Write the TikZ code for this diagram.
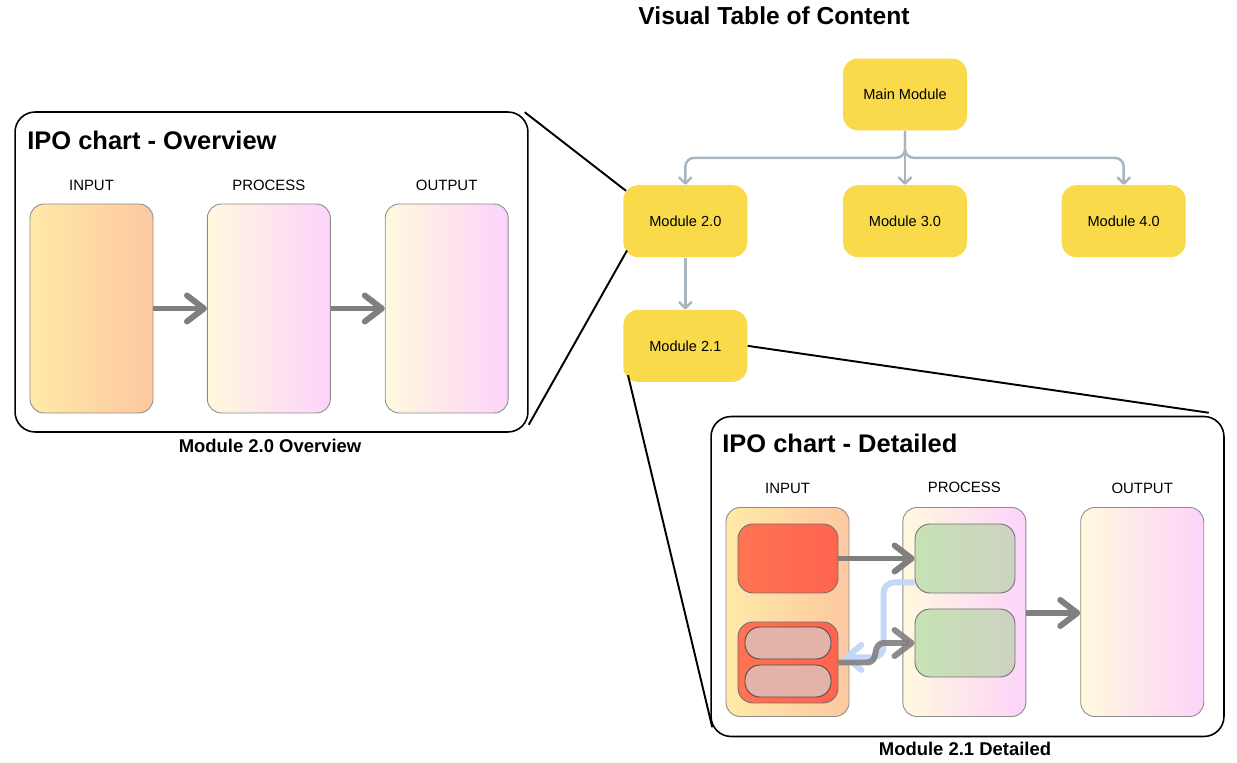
\documentclass[tikz,border=0pt]{standalone}
\usepackage{fontspec}
\setmainfont{Liberation Sans}
\usetikzlibrary{arrows.meta,positioning,calc}
\definecolor{modyellow}{HTML}{F9DA4B}
\definecolor{treeline}{HTML}{A8B4BE}
\definecolor{inleft}{HTML}{FFE9A8}
\definecolor{inright}{HTML}{FDC8A0}
\definecolor{procleft}{HTML}{FFF9DE}
\definecolor{procright}{HTML}{FDD3FB}
\definecolor{redleft}{HTML}{FF7352}
\definecolor{redright}{HTML}{FF644F}
\definecolor{pillfill}{HTML}{E3B2A8}
\definecolor{greenleft}{HTML}{C6E2B4}
\definecolor{greenright}{HTML}{CDD2C2}
\definecolor{flowgray}{HTML}{7F7F7F}
\definecolor{backblue}{HTML}{C2D5F8}
\definecolor{boxedge}{HTML}{8C8C8C}

\begin{document}
\begin{tikzpicture}[x=0.02cm, y=-0.02cm,
    module/.style={rectangle, rounded corners=0.3cm, fill=modyellow, minimum width=2.48cm, minimum height=1.44cm, font=\fontsize{8.3}{10}\selectfont},
    chart/.style={rectangle, rounded corners=0.4cm, draw, line width=0.9pt, minimum width=10.26cm, minimum height=6.4cm},
    ipo/.style={rectangle, rounded corners=0.28cm, draw=boxedge, line width=0.5pt, minimum width=2.46cm, minimum height=4.18cm},
    inbox/.style={ipo, left color=inleft, right color=inright},
    procbox/.style={ipo, left color=procleft, right color=procright},
    part/.style={rectangle, rounded corners=0.3cm, draw=boxedge!80!black, line width=0.5pt, minimum width=2cm},
    pill/.style={rectangle, rounded corners=0.3cm, draw=black!70, line width=0.5pt, fill=pillfill, minimum width=1.72cm, minimum height=0.64cm},
    heading/.style={inner sep=0pt, font=\fontsize{8.5}{10}\selectfont},
    charttitle/.style={inner sep=0pt, anchor=west, font=\fontsize{14.5}{17}\selectfont\bfseries},
    caption/.style={inner sep=0pt, font=\fontsize{10.5}{12}\selectfont\bfseries},
    tree/.style={draw=treeline, line width=1.4pt, rounded corners=5pt, -{Straight Barb[length=0.12cm, width=0.24cm, round]}},
    flow/.style={draw=flowgray, line width=3.4pt, -{Straight Barb[length=0.34cm, width=0.52cm, round]}},
    backflow/.style={draw=backblue, line width=3.4pt, opacity=0.95, rounded corners=6pt, -{Straight Barb[length=0.3cm, width=0.5cm, round]}},
    zoom/.style={line width=1.1pt}
  ]
    \useasboundingbox (0,0) rectangle (1237,763);

    \node[inner sep=0pt, font=\fontsize{14}{17}\selectfont\bfseries] (title) at (774,16) {Visual Table of Content};

    \node[module] (main) at (905,94.5) {Main Module};
    \node[module, below=1.08cm of main] (m30) {Module 3.0};
    \node[module, left=1.9cm of m30] (m20) {Module 2.0};
    \node[module, right=1.88cm of m30] (m40) {Module 4.0};
    \node[module, below=1.04cm of m20] (m21) {Module 2.1};

    \draw[tree] (main.south) -- ++(0,27) -| (m20.north);
    \draw[tree] (main.south) -- ++(0,27) -| (m40.north);
    \draw[tree] (main.south) -- (m30.north);
    \draw[tree] (m20.south) -- (m21.north);

    \node[chart] (ovbox) at (271.5,272) {};
    \node[charttitle] (ovtitle) at (27,140) {IPO chart - Overview};
    \node[inbox] (ovin) at (91.5,308.5) {};
    \node[procbox, right=1.07cm of ovin] (ovproc) {};
    \node[procbox, right=1.08cm of ovproc] (ovout) {};
    \node[heading, above=0.26cm of ovin] (ovinlab) {INPUT};
    \node[heading, above=0.26cm of ovproc] (ovproclab) {PROCESS};
    \node[heading, above=0.26cm of ovout] (ovoutlab) {OUTPUT};
    \draw[flow] (ovin) -- (ovproc);
    \draw[flow] (ovproc) -- (ovout);
    \node[caption] (ovcap) at (270,446) {Module 2.0 Overview};

    \node[chart] (dtbox) at (967.5,576.5) {};
    \node[charttitle] (dttitle) at (722,443) {IPO chart - Detailed};
    \node[inbox] (dtin) at (787.5,612) {};
    \node[procbox, right=1.06cm of dtin] (dtproc) {};
    \node[procbox, right=1.08cm of dtproc] (dtout) {};
    \node[heading, above=0.26cm of dtin] (dtinlab) {INPUT};
    \node[heading, above=0.28cm of dtproc] (dtproclab) {PROCESS};
    \node[heading, above=0.26cm of dtout] (dtoutlab) {OUTPUT};
    \node[caption] (dtcap) at (965,749) {Module 2.1 Detailed};

    \node[part, minimum height=1.38cm, left color=redleft, right color=redright] (red1) at (788,558.5) {};
    \node[part, minimum height=1.62cm, left color=redleft, right color=redright] (redgrp) at (788,662.5) {};
    \node[pill] (pill1) at (788,643) {};
    \node[pill] (pill2) at (788,681) {};
    \node[part, minimum height=1.38cm, left color=greenleft, right color=greenright] (green1) at (965,558.5) {};
    \node[part, minimum height=1.36cm, left color=greenleft, right color=greenright] (green2) at (965,643) {};

    \draw[backflow] ($(green1.south west)+(0,-11)$) -- ++(-31,0) -- ++(0,75) -- ($(redgrp.east)+(5,-5)$);
    \draw[flow] (red1) -- (green1);
    \draw[flow, opacity=0.9] (redgrp.east) -- ++(28,0) .. controls +(14,0) and +(-14,0) .. ($(green2.west)+(-30,0)$) -- (green2.west);
    \draw[flow] (dtproc.east |- 0,613) -- (dtout.west |- 0,613);

    \draw[zoom] ($(ovbox.north east)+(-4,1)$) -- ($(m20.north west)+(3,6)$);
    \draw[zoom] ($(ovbox.south east)+(0,-8)$) -- ($(m20.south west)+(4,-7)$);
    \draw[zoom] (m21.east) -- ($(dtbox.north east)+(-16,-3)$);
    \draw[zoom] ($(m21.south west)+(5,-7)$) -- ($(dtbox.south west)+(2,-10)$);
  \end{tikzpicture}
\end{document}
